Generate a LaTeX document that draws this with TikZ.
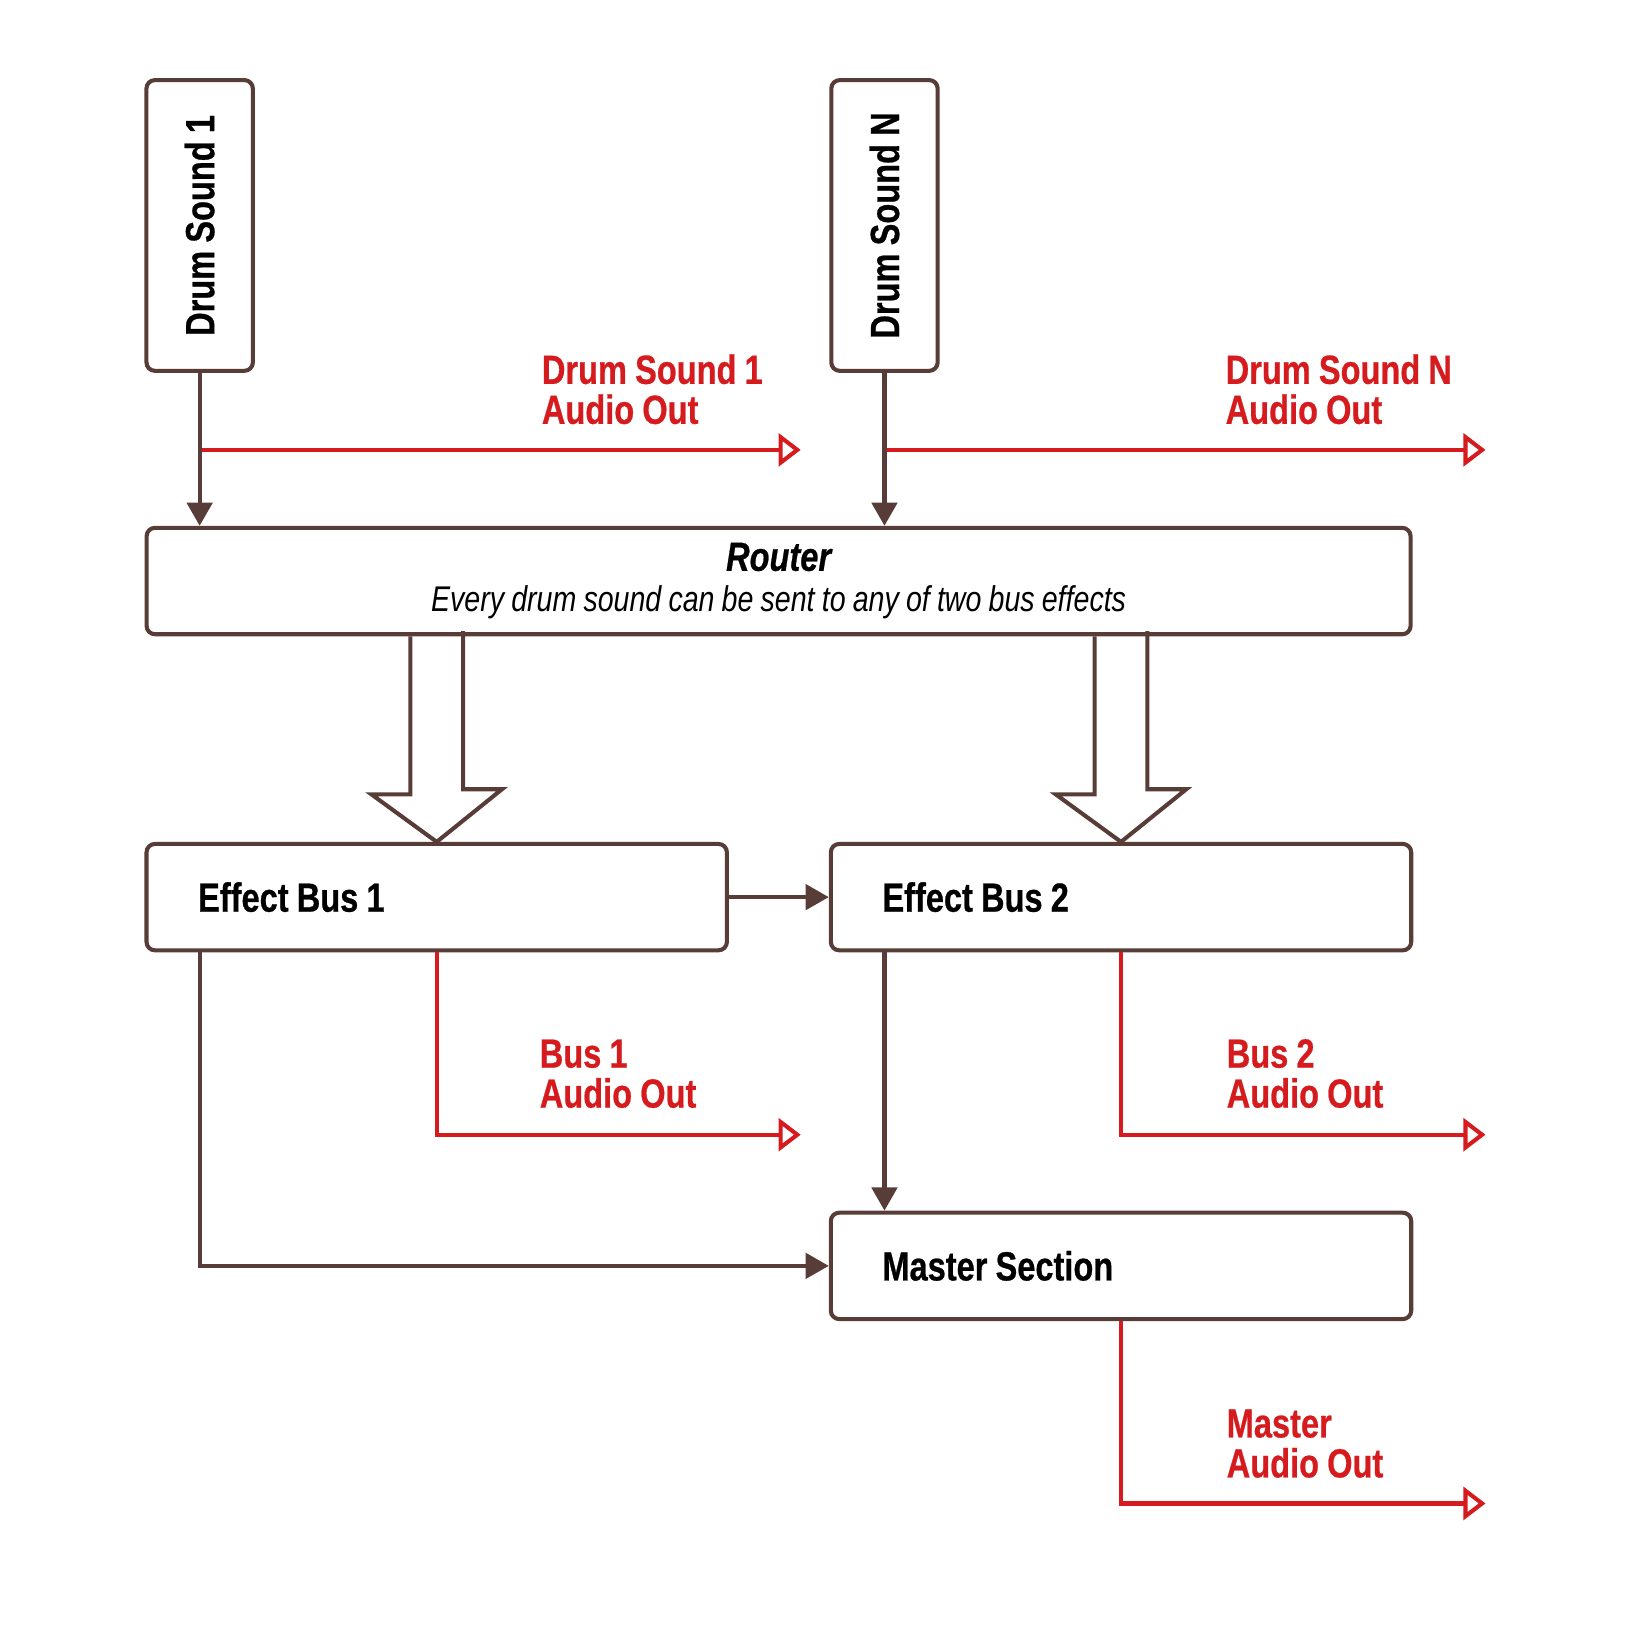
\documentclass[tikz,border=0pt]{standalone}
\usepackage{fontspec}
\setmainfont{Liberation Sans}[FakeStretch=0.8, WordSpace=0.9, BoldFeatures={FakeBold=0.6}, BoldItalicFeatures={FakeBold=0.6}]
\usepackage{graphicx}
\usetikzlibrary{positioning, calc, arrows.meta}
\definecolor{linebrown}{RGB}{88,60,56}
\definecolor{outred}{RGB}{214,27,30}
\tikzset{
    box/.style={rectangle, draw=linebrown, line width=2.2pt, rounded corners=0.16cm, fill=white, minimum height=2.02cm, inner xsep=0.98cm, inner ysep=0pt, text width=9.06cm, align=flush left, font=\bfseries\fontsize{22}{22}\selectfont},
    vbox/.style={rectangle, draw=linebrown, line width=2.2pt, rounded corners=0.16cm, fill=white, minimum width=2.02cm, minimum height=5.52cm, inner sep=0pt, font=\bfseries\fontsize{22}{22}\selectfont},
    flow/.style={draw=linebrown, line width=2.2pt, -{Triangle[length=0.44cm, width=0.48cm]}},
    redout/.style={draw=outred, line width=2.2pt, -{Triangle[open, length=0.42cm, width=0.62cm, line width=2.2pt]}},
    hollow/.style={draw=linebrown, line width=2.2pt, line join=miter},
    outlabel/.style={anchor=south west, inner sep=0pt, align=left, text=outred, font=\bfseries\fontsize{22}{21.6}\selectfont}
}
\begin{document}
\begin{tikzpicture}[x=0.02cm, y=-0.02cm]
        \useasboundingbox (0,0) rectangle (1568,1548);
        % Nodes
        \node (ds1) [vbox] at (189.5,214) {\rotatebox{90}{Drum Sound 1}};
        \node (dsN) [vbox] at (839.5,214) {\rotatebox{90}{Drum Sound N}};
        \node (router) [box, minimum width=24cm, text width=, inner xsep=0pt, align=center, font=\itshape] at (739,551.5)
            {{\bfseries\fontsize{22}{22}\selectfont Router}\\[7pt]{\fontsize{19.3}{22}\selectfont Every drum sound can be sent to any of two bus effects}};
        \node (bus1) [box] at (414.5,851.5) {Effect Bus 1};
        \node (bus2) [box] at (1064,851.5) {Effect Bus 2};
        \node (master) [box] at (1064,1201.5) {Master Section};

        \coordinate (ds1out) at (760,427);
        \coordinate (dsNout) at (1410,427);
        \coordinate (bus1out) at (760,1077);
        \coordinate (bus2out) at (1410,1077);
        \coordinate (masterout) at (1410,1427);

        % Audio out labels
        \node (ds1lbl) [outlabel] at (514,403) {Drum Sound 1\\Audio Out};
        \node (dsNlbl) [outlabel] at (1163,403) {Drum Sound N\\Audio Out};
        \node (bus1lbl) [outlabel] at (512,1052) {Bus 1\\Audio Out};
        \node (bus2lbl) [outlabel] at (1164,1052) {Bus 2\\Audio Out};
        \node (masterlbl) [outlabel] at (1164,1403) {Master\\Audio Out};

        % Arrows
        \draw [redout] (ds1.south |- ds1out) -- (ds1out);
        \draw [redout] (dsN.south |- dsNout) -- (dsNout);
        \draw [flow] (ds1.south) -- (ds1.south |- router.north);
        \draw [flow] (dsN.south) -- (dsN.south |- router.north);

        \draw [hollow] (router.south -| bus1.north) ++(-25,0) -- ++(0,150) -- ++(-37,0) -- (bus1.north) -- ++(62,-50) -- ++(-37,0) -- ++(0,-150);
        \draw [hollow] (router.south -| bus2.north) ++(-25,0) -- ++(0,150) -- ++(-37,0) -- (bus2.north) -- ++(62,-50) -- ++(-37,0) -- ++(0,-150);

        \draw [flow] (bus1.east) -- (bus2.west);
        \draw [redout] (bus1.south) -- (bus1.south |- bus1out) -- (bus1out);
        \draw [redout] (bus2.south) -- (bus2.south |- bus2out) -- (bus2out);
        \draw [flow] (ds1.south |- bus1.south) -- (ds1.south |- master.west) -- (master.west);
        \draw [flow] (dsN.south |- bus2.south) -- (dsN.south |- master.north);
        \draw [redout] (master.south) -- (master.south |- masterout) -- (masterout);
    \end{tikzpicture}
\end{document}
